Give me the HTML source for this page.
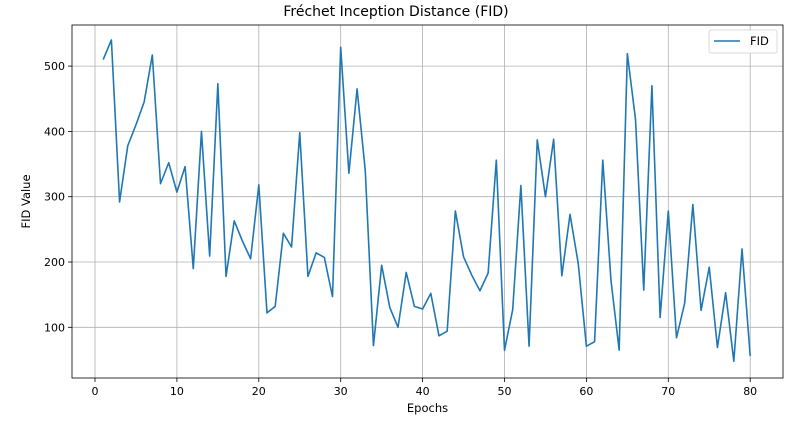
<!DOCTYPE html>
<html><head><meta charset="utf-8"><style>
body{margin:0;background:#fff;font-family:"Liberation Sans","DejaVu Sans",sans-serif;}
svg text{font-family:"DejaVu Sans","Liberation Sans",sans-serif;}
</style></head><body>
<svg id="c" width="792" height="418"></svg>
<script>
const epochs=[];for(let i=1;i<=80;i++)epochs.push(i);
const fidValues=[510,540,292,378,410,445,517,320,352,307,346,190,400,209,473,178,263,232,205,318,122,132,244,223,398,178,214,207,147,529,336,465,340,72,195,130,100,184,132,128,152,87,94,278,208,180,156,183,356,65,127,317,71,387,300,388,179,273,198,71,78,356,172,65,519,418,157,470,115,278,84,137,288,126,192,69,153,48,220,56];
const xTicks=[0,10,20,30,40,50,60,70,80];
const yTicks=[100,200,300,400,500];
const L=72,R=783,T=25,B=378;
const xs=v=>95+v*8.19;
const ys=v=>392.6-v*0.653;
const svg=document.getElementById('c');
const NS='http://www.w3.org/2000/svg';
function mk(t,a,p){const e=document.createElementNS(NS,t);for(const k in a)e.setAttribute(k,a[k]);(p||svg).appendChild(e);return e;}
let e;
e=mk('text',{x:396,y:16,'text-anchor':'middle','font-size':14,fill:'#000'});e.textContent='Fréchet Inception Distance (FID)';


xTicks.forEach(t=>{const x=xs(t);
 e=mk('line',{x1:x,x2:x,y1:T,y2:B,stroke:'#b0b0b0','stroke-width':0.8});
 
 
 mk('line',{x1:x,x2:x,y1:B,y2:B+4,stroke:'#000','stroke-width':0.8});
 e=mk('text',{x:x,y:B+17,'text-anchor':'middle','font-size':11,fill:'#000'});e.textContent=t;
 
 
});
yTicks.forEach(t=>{const y=ys(t);
 e=mk('line',{x1:L,x2:R,y1:y,y2:y,stroke:'#b0b0b0','stroke-width':0.8});
 
 
 mk('line',{x1:L-4,x2:L,y1:y,y2:y,stroke:'#000','stroke-width':0.8});
 e=mk('text',{x:L-7,y:y+4,'text-anchor':'end','font-size':11,fill:'#000'});e.textContent=t;
 
 
});
e=mk('rect',{x:L,y:T,width:R-L,height:B-T,fill:'none',stroke:'#000','stroke-width':0.8});


e=mk('polyline',{points:epochs.map((d,i)=>xs(d)+','+ys(fidValues[i])).join(' '),fill:'none',stroke:'#1f77b4','stroke-width':1.6,'stroke-linejoin':'round'});


e=mk('text',{x:(L+R)/2,y:412,'text-anchor':'middle','font-size':11.5,fill:'#000'});e.textContent='Epochs';


e=mk('text',{x:0,y:0,'text-anchor':'middle','font-size':11.5,fill:'#000',transform:'translate(30,'+((T+B)/2)+') rotate(-90)'});e.textContent='FID Value';


const g=mk('g',{});


mk('rect',{x:709,y:30,width:68,height:23,rx:2,fill:'#fff',stroke:'#d0d0d0','stroke-width':0.8},g);
mk('line',{x1:714,x2:740,y1:41,y2:41,stroke:'#1f77b4','stroke-width':1.6},g);
e=mk('text',{x:750,y:45,'font-size':11.5,fill:'#000'},g);e.textContent='FID';


</script>
</body></html>
